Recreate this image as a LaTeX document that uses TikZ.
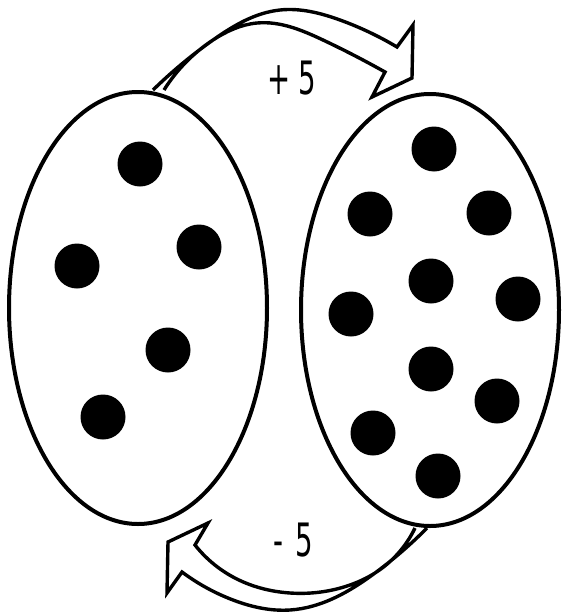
\documentclass[tikz,border=0pt]{standalone}
\usepackage{fontspec}
\setmainfont{DejaVu Sans}
\usetikzlibrary{shapes.geometric}
\usetikzlibrary{hobby}
\tikzset{
	bag/.style={draw, ellipse, line width=4pt, minimum width=258pt, minimum height=432pt, inner sep=0pt},
	dot/.style={circle, fill=black, minimum size=45pt, inner sep=0pt},
	band/.style={line width=3.4pt, line join=miter},
	sumlabel/.style={font=\fontsize{46}{46}\selectfont, inner sep=0pt}
}

\begin{document}
\begin{tikzpicture}[x=1pt, y=-1pt]
	\useasboundingbox (0,0) rectangle (562,613);
	\node[bag] (left) at (138,308) {};
	\node[bag] (right) at (430,310) {};
	\foreach \x/\y [count=\i] in {140/164, 199/247, 77/266, 168/350, 103/417}
		\node[dot] (l\i) at (\x,\y) {};
	\foreach \x/\y [count=\i] in {434/149, 370/214, 489/213, 431/281, 518/299, 351/314, 431/369, 497/401, 373/433, 438/476}
		\node[dot] (r\i) at (\x,\y) {};
	% top arrow: left bag to right bag
	\coordinate (top outer) at (153,90);
	\coordinate (top inner) at (164,90);
	\coordinate (top pinch) at (213,40);
	\draw[band] (top outer) to[curve through={(top pinch) .. (280,10) .. (340,20)}] (397,47)
		-- (413,25) -- (412,78) -- (372,97) -- (385,72)
		to[curve through={(323,40) .. (257,23) .. (top pinch)}] (top inner);
	% bottom arrow: right bag back to left bag
	\coordinate (bottom outer) at (427,528);
	\coordinate (bottom inner) at (415,528);
	\coordinate (bottom pinch) at (375,573);
	\draw[band] (bottom outer) to[curve through={(bottom pinch) .. (290,610) .. (233,600)}] (182,572)
		-- (167,593) -- (168,542) -- (208,523) -- (195,545)
		to[curve through={(233,577) .. (290,593) .. (350,585) .. (bottom pinch)}] (bottom inner);
	\node[sumlabel] (plus) at (292,78) {\scalebox{0.6}[1]{+\hspace{0.3em}5}};
	\node[sumlabel] (minus) at (293,540) {\scalebox{0.6}[1]{-\hspace{0.45em}5}};
\end{tikzpicture}
\end{document}
